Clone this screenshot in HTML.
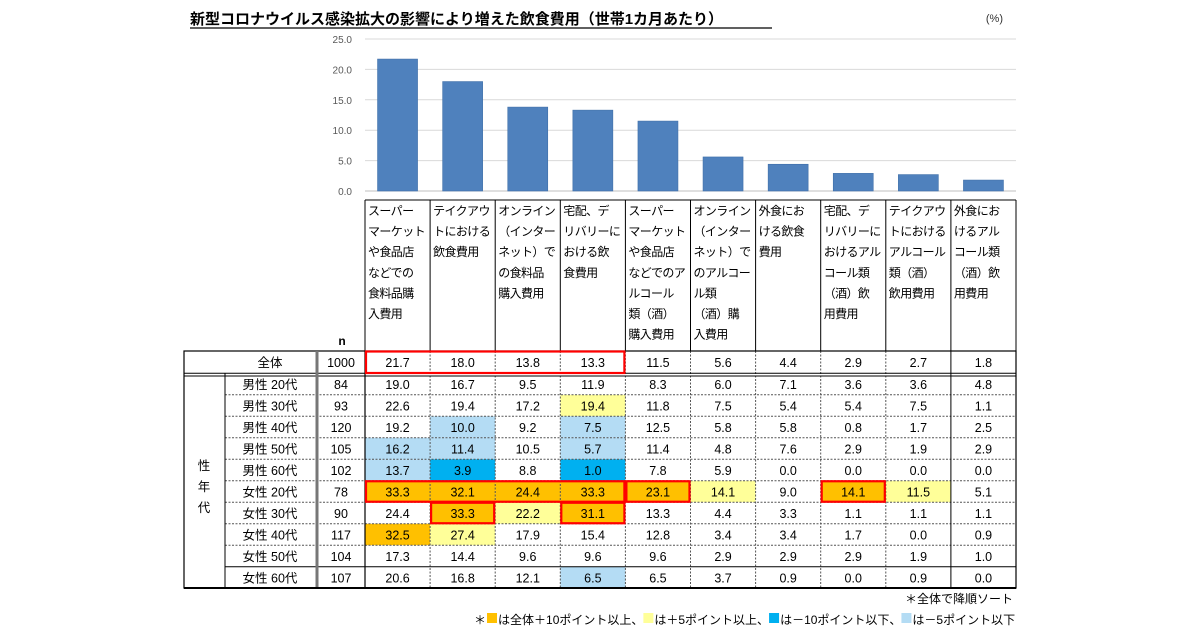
<!DOCTYPE html>
<html><head><meta charset="utf-8"><style>
body{margin:0;background:#fff}
svg{display:block;font-family:"Liberation Sans","Noto Sans CJK JP",sans-serif}
</style></head><body>
<svg id="c" width="1200" height="630" viewBox="0 0 1200 630" xmlns="http://www.w3.org/2000/svg">
<text x="190" y="24" font-size="15" font-weight="bold" fill="#000">新型コロナウイルス感染拡大の影響により増えた飲食費用（世帯1カ月あたり）</text>
<line x1="190" y1="28" x2="772" y2="28" stroke="#000" stroke-width="1.3"/>
<text x="1003" y="22" font-size="11" text-anchor="end" fill="#333">(%)</text>
<g id="g"></g>
</svg>
<script>
const categories=[
 ["スーパー","マーケット","や食品店","などでの","食料品購","入費用"],
 ["テイクアウ","トにおける","飲食費用"],
 ["オンライン","（インター","ネット）で","の食料品","購入費用"],
 ["宅配、デ","リバリーに","おける飲","食費用"],
 ["スーパー","マーケット","や食品店","などでのア","ルコール","類（酒）","購入費用"],
 ["オンライン","（インター","ネット）で","のアルコー","ル類","（酒）購","入費用"],
 ["外食にお","ける飲食","費用"],
 ["宅配、デ","リバリーに","おけるアル","コール類","（酒）飲","用費用"],
 ["テイクアウ","トにおける","アルコール","類（酒）","飲用費用"],
 ["外食にお","けるアル","コール類","（酒）飲","用費用"]];
const totalValues=[21.7,18.0,13.8,13.3,11.5,5.6,4.4,2.9,2.7,1.8];
const totalN=1000;
const rowLabels=["男性 20代","男性 30代","男性 40代","男性 50代","男性 60代","女性 20代","女性 30代","女性 40代","女性 50代","女性 60代"];
const rowN=[84,93,120,105,102,78,90,117,104,107];
const rowValues=[
 [19.0,16.7,9.5,11.9,8.3,6.0,7.1,3.6,3.6,4.8],
 [22.6,19.4,17.2,19.4,11.8,7.5,5.4,5.4,7.5,1.1],
 [19.2,10.0,9.2,7.5,12.5,5.8,5.8,0.8,1.7,2.5],
 [16.2,11.4,10.5,5.7,11.4,4.8,7.6,2.9,1.9,2.9],
 [13.7,3.9,8.8,1.0,7.8,5.9,0.0,0.0,0.0,0.0],
 [33.3,32.1,24.4,33.3,23.1,14.1,9.0,14.1,11.5,5.1],
 [24.4,33.3,22.2,31.1,13.3,4.4,3.3,1.1,1.1,1.1],
 [32.5,27.4,17.9,15.4,12.8,3.4,3.4,1.7,0.0,0.9],
 [17.3,14.4,9.6,9.6,9.6,2.9,2.9,2.9,1.9,1.0],
 [20.6,16.8,12.1,6.5,6.5,3.7,0.9,0.0,0.9,0.0]];
const yTicks=[0,5,10,15,20,25];
// red boxes: [row(-1 = total), firstCol, lastCol]
const redBoxes=[[-1,0,3],[5,0,3],[5,4,4],[5,7,7],[6,1,1],[6,3,3]];

const NS="http://www.w3.org/2000/svg";
const g=document.getElementById('g');
function el(t,a,txt){const e=document.createElementNS(NS,t);for(const k in a)e.setAttribute(k,a[k]);if(txt!=null)e.textContent=txt;g.appendChild(e);return e;}
const X0=365,CW=65.1;
const colX=i=>X0+i*CW;
const y=v=>191-v*6.08;
const rowTop=i=>373.25+i*21.5;
yTicks.forEach(t=>{
 const l=el('line',{x1:365,x2:1016,y1:y(t),y2:y(t),stroke:t===0?'#bfbfbf':'#d9d9d9','stroke-width':1});
 
 const tx=el('text',{x:352,y:y(t)+4,'font-size':10,'text-anchor':'end',fill:'#595959'},t.toFixed(1));
 
});
totalValues.forEach((v,i)=>{
 const r=el('rect',{x:colX(i)+CW/2-20,y:y(v),width:40,height:y(0)-y(v),fill:'#4f81bd',stroke:'#3f6fa8','stroke-width':0.6});
 
});
categories.forEach((lines,i)=>{
 lines.forEach((s,j)=>{
  const t=el('text',{x:colX(i)+3,y:215+j*20.6,'font-size':12,fill:'#000','letter-spacing':'-0.6'},s);
  
 });
 el('line',{x1:colX(i),x2:colX(i),y1:200,y2:351,stroke:'#000','stroke-width':1});
});
el('line',{x1:1016,x2:1016,y1:200,y2:351,stroke:'#000'});
el('line',{x1:365,x2:1016,y1:200,y2:200,stroke:'#000'});
const nh=el('text',{x:342,y:345,'font-size':12,'font-weight':'bold','text-anchor':'middle'},'n');

function fill(d){if(d>=10)return'#ffc000';if(d>=5)return'#ffff99';if(d<=-10)return'#00b0f0';if(d<-5)return'#b4dcf4';return null;}
rowValues.forEach((row,r)=>{
 row.forEach((v,c)=>{
  const f=fill(v-totalValues[c]);
  if(f){const rc=el('rect',{x:colX(c),y:rowTop(r),width:CW,height:21.5,fill:f});}
 });
});
for(let r=1;r<10;r++){
 el('line',{x1:225,x2:1016,y1:rowTop(r),y2:rowTop(r),stroke:r===9?'#000':'#555','stroke-width':1,'stroke-dasharray':r===9?'':'2,1.5'});
}
for(let c=1;c<10;c++){
 el('line',{x1:colX(c),x2:colX(c),y1:351,y2:588,stroke:c===9?'#000':'#555','stroke-dasharray':(c===9)?'':'2,1.5'});
}
el('rect',{x:184,y:351,width:832,height:237,fill:'none',stroke:'#000','stroke-width':1.2});
el('line',{x1:184,x2:1016,y1:373.2,y2:373.2,stroke:'#000','stroke-width':1});
el('line',{x1:184,x2:1016,y1:376,y2:376,stroke:'#000','stroke-width':1});
el('line',{x1:225,x2:225,y1:373,y2:588,stroke:'#000'});
el('line',{x1:317,x2:317,y1:351,y2:588,stroke:'#777','stroke-width':3});
el('line',{x1:365,x2:365,y1:351,y2:588,stroke:'#000','stroke-width':1.2});
el('line',{x1:184,x2:1016,y1:588,y2:588,stroke:'#000','stroke-width':2});
const tl=el('text',{x:270,y:367,'font-size':12.5,'text-anchor':'middle'},'全体');
const tn=el('text',{x:341,y:367,'font-size':12.5,'text-anchor':'middle'},String(totalN));
totalValues.forEach((v,c)=>{const t=el('text',{x:colX(c)+CW/2,y:367,'font-size':12.5,'text-anchor':'middle'},v.toFixed(1));});
rowLabels.forEach((s,r)=>{
 const cy=rowTop(r)+15.5;
 const a=el('text',{x:270,y:cy,'font-size':12.5,'text-anchor':'middle'},s);
 const b=el('text',{x:341,y:cy,'font-size':12.5,'text-anchor':'middle'},String(rowN[r]));
 rowValues[r].forEach((v,c)=>{const t=el('text',{x:colX(c)+CW/2,y:cy,'font-size':12.5,'text-anchor':'middle'},v.toFixed(1));});
});
['性','年','代'].forEach((s,i)=>{const t=el('text',{x:204,y:470+i*21,'font-size':12.5,'text-anchor':'middle'},s);});
redBoxes.forEach(([r,c0,c1])=>{
 const top=r<0?351.5:rowTop(r)+0.5, h=r<0?21.5:20.5;
 const b=el('rect',{x:colX(c0)+1,y:top,width:(c1-c0+1)*CW-2,height:h,fill:'none',stroke:'#ff0000','stroke-width':2.2});
 
});
const f1=el('text',{x:1013,y:603,'font-size':12,'text-anchor':'end'},'＊全体で降順ソート');
const lg=[['#ffc000','は全体＋10ポイント以上、'],['#ffff99','は＋5ポイント以上、'],['#00b0f0','は－10ポイント以下、'],['#b4dcf4','は－5ポイント以下']];
let lx=474;
const st=el('text',{x:lx,y:624,'font-size':12},'＊');


lx+=st.getComputedTextLength()+1;
lg.forEach(([c,s])=>{
 const r=el('rect',{x:lx,y:613,width:10,height:10,fill:c});
 
 
 lx+=11;
 const t=el('text',{x:lx,y:624,'font-size':12},s);
 
 
 lx+=t.getComputedTextLength();
});
</script>
</body></html>
